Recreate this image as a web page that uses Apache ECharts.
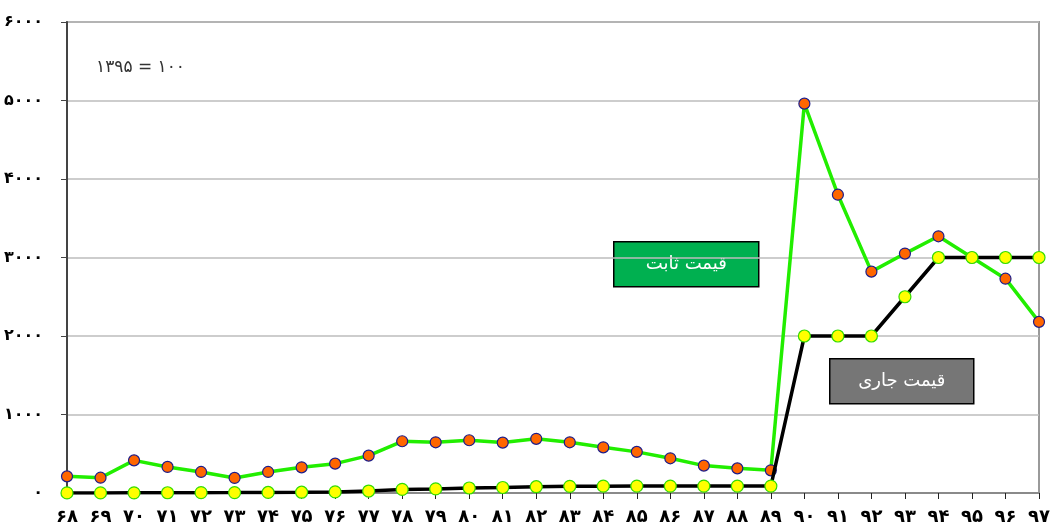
<!DOCTYPE html>
<html>
<head>
<meta charset="utf-8">
<script src="https://cdn.jsdelivr.net/npm/echarts@6/dist/echarts.min.js"></script>
<style>
  html, body { margin: 0; padding: 0; background: #ffffff; }
  #chart { width: 1056px; height: 532px; }
</style>
</head>
<body>
<div id="chart"></div>
<script>
// Years (Persian calendar, two-digit)
const years = ['68','69','70','71','72','73','74','75','76','77','78','79','80','81','82',
               '83','84','85','86','87','88','89','90','91','92','93','94','95','96','97'];

// Index at constant prices (1395 = 100)
const constantPrice = [212, 195, 416, 332, 268, 192, 268, 327, 374, 476, 659, 646, 672, 642, 690,
                       646, 582, 524, 442, 349, 314, 289, 4960, 3800, 2820, 3050, 3270, 3000, 2730, 2180];

// Index at current prices (1395 = 100)
const currentPrice = [1, 1, 2, 3, 4, 5, 7, 10, 14, 25, 46, 52, 64, 70, 80,
                      85, 87, 88, 88, 88, 88, 88, 2000, 2000, 2000, 2500, 3000, 3000, 3000, 3000];

const yTicks = { min: 0, max: 6000, step: 1000 };

const seriesNames = { constant: 'قیمت ثابت', current: 'قیمت جاری' };
const baseNote = '1395 = 100';

const faDigits = '۰۱۲۳۴۵۶۷۸۹';
function toFa(v) {
  return String(v).replace(/\d/g, d => faDigits[d]);
}

const chart = echarts.init(document.getElementById('chart'), null, { renderer: 'canvas' });

const labelFont = { fontFamily: 'DejaVu Sans', fontWeight: 'bold', color: '#000' };

chart.setOption({
  backgroundColor: '#ffffff',
  animation: false,
  grid: {
    left: 67, right: 17, top: 22, bottom: 39,
    containLabel: false, outerBoundsMode: 'none',
    show: true, borderColor: '#9a9a9a', borderWidth: 2, backgroundColor: 'transparent'
  },
  xAxis: {
    type: 'category',
    data: years,
    boundaryGap: false,
    axisLine: { lineStyle: { color: '#8a8a8a', width: 2 } },
    axisTick: { show: true, length: 6, lineStyle: { color: '#222', width: 1 } },
    axisLabel: Object.assign({ fontSize: 18, margin: 15, formatter: v => toFa(v) }, labelFont),
    splitLine: { show: false }
  },
  yAxis: {
    type: 'value',
    min: yTicks.min, max: yTicks.max, interval: yTicks.step,
    axisLine: { show: true, lineStyle: { color: '#444', width: 2 } },
    axisTick: { show: true, length: 6, lineStyle: { color: '#444', width: 1 } },
    axisLabel: Object.assign({ fontSize: 16, margin: 24, formatter: v => toFa(v) }, labelFont),
    splitLine: { lineStyle: { color: '#bdbdbd', width: 1.5 } }
  },
  series: [
    {
      name: seriesNames.constant,
      type: 'line',
      data: constantPrice,
      symbol: 'circle',
      symbolSize: 11,
      lineStyle: { color: '#22ee00', width: 3.5 },
      itemStyle: { color: '#ff6600', borderColor: '#1c1c8a', borderWidth: 1.2 },
      z: 2
    },
    {
      name: seriesNames.current,
      type: 'line',
      data: currentPrice,
      symbol: 'circle',
      symbolSize: 12,
      lineStyle: { color: '#000000', width: 3.5 },
      itemStyle: { color: '#ffff00', borderColor: '#33dd00', borderWidth: 1.2 },
      z: 3
    }
  ],
  graphic: [
    {
      type: 'text', left: 96, top: 59, z: 10,
      style: { text: toFa(baseNote), font: '17px "DejaVu Sans"', fill: '#333' }
    },
    {
      type: 'group', left: 613, top: 241, z: 10,
      children: [
        { type: 'rect', shape: { x: 0, y: 0, width: 145, height: 45 },
          style: { fill: '#00b050', stroke: '#000', lineWidth: 1.5 } },
        { type: 'text', x: 72.5, y: 23,
          style: { text: seriesNames.constant, font: '18px "DejaVu Sans"', fill: '#fff',
                   align: 'center', verticalAlign: 'middle' } }
      ]
    },
    {
      type: 'group', left: 829, top: 358, z: 10,
      children: [
        { type: 'rect', shape: { x: 0, y: 0, width: 144, height: 45 },
          style: { fill: '#767676', stroke: '#000', lineWidth: 1.5 } },
        { type: 'text', x: 72, y: 23,
          style: { text: seriesNames.current, font: '18px "DejaVu Sans"', fill: '#fff',
                   align: 'center', verticalAlign: 'middle' } }
      ]
    }
  ]
});
</script>
</body>
</html>
